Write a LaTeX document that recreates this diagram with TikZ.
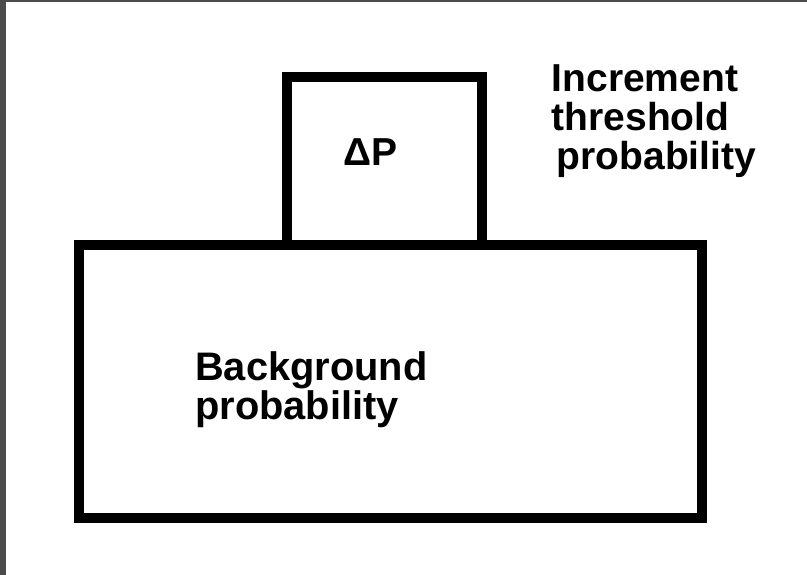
\documentclass[tikz,border=0pt]{standalone}
\usepackage{fontspec}
\setmainfont{Liberation Sans}
\begin{document}
\begin{tikzpicture}[x=1pt,y=-1pt,
  box/.style={draw=black,line width=10pt,fill=none,inner sep=0pt,minimum width=#1},
  lbl/.style={font=\bfseries\fontsize{#1}{39}\selectfont,inner sep=0pt,anchor=base west,align=left},
  lbl/.default=39]
  \useasboundingbox (0,0) rectangle (807,575);
  % window edge strips
  \fill[black!70] (0,0) rectangle (6,575);
  \fill[black!70] (0,0) rectangle (807,2);
  % base block and the increment block on top of it
  \node[box=623pt,minimum height=273pt] (bg) at (390.5,381.5) {};
  \node[box=195pt,minimum height=168pt] (inc) at (384.5,161) {};
  % labels (base anchor sits on the last line)
  \node[lbl] (dp) at (343,166) {ΔP};
  \node[lbl=39.8] (bgtext) at (195,419) {Background\\probability};
  \node[lbl] (inctext) at (551.5,170) {Increment\\threshold\\\hspace*{5pt}probability};
\end{tikzpicture}
\end{document}
